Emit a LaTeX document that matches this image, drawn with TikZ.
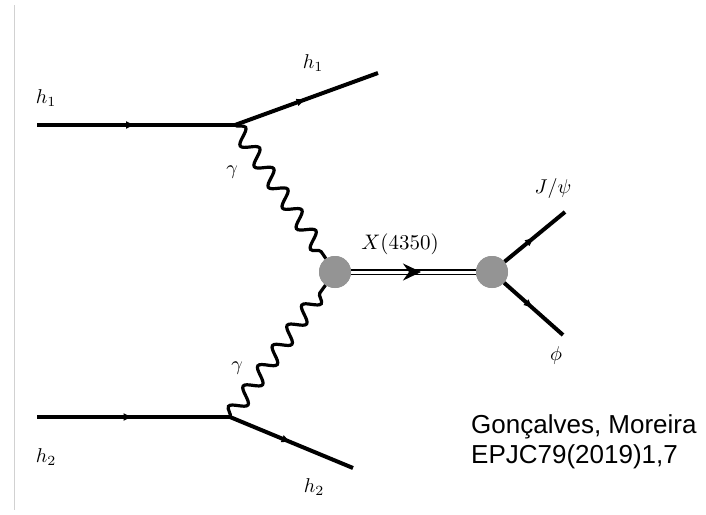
\documentclass[tikz,border=0pt]{standalone}
\usepackage{fontspec}
\newfontfamily\creditfont{Liberation Sans}
\usetikzlibrary{arrows.meta,positioning,decorations.pathmorphing,decorations.markings}

\begin{document}
\begin{tikzpicture}[
  x=1pt, y=-1pt,
  lbl/.style={inner sep=0pt, scale=2},
  fermion/.style={line width=4pt, postaction={decorate},
    decoration={markings, mark=at position 0.5 with {\arrow{Latex[length=10pt,width=8pt]}}}},
  photon/.style={line width=3.2pt, decorate, decoration={snake, amplitude=7.5pt, segment length=25pt}},
  blob/.style={circle, fill=black!42, minimum size=32pt, inner sep=0pt},
  xline/.style={double, double distance=3pt, line width=1.6pt},
  xarr/.style={postaction={decorate},
    decoration={markings, mark=at position 0.56 with {\arrow[line width=0.8pt]{Stealth[length=18pt,width=17pt,inset=6pt]}}}}]
  \useasboundingbox (0,0) rectangle (706,514);
  \draw[black!18, line width=1pt] (14,5) -- (14,510);
  % vertices and free ends
  \coordinate (h1in) at (37,125);  \coordinate (v1) at (235,125);  \coordinate (h1out) at (378,73);
  \coordinate (h2in) at (37,417);  \coordinate (v2) at (230,417);  \coordinate (h2out) at (353,468);
  \coordinate (jpsi) at (565,212); \coordinate (phiend) at (563,335);
  \node[blob] (b1) at (335,272) {};
  \node[blob] (b2) at (492,272) {};
  % lines
  \draw[fermion] (h1in) -- (v1);
  \draw[fermion] (v1) -- (h1out);
  \draw[fermion] (h2in) -- (v2);
  \draw[fermion] (v2) -- (h2out);
  \draw[photon] (v1) -- (b1);
  \draw[photon] (v2) -- (b1);
  \draw[xline] (b1) -- (b2);
  \path[xarr] (b1) -- (b2);
  \draw[fermion] (b2) -- (jpsi);
  \draw[fermion] (b2) -- (phiend);
  \node[blob] at (b1) {};
  \node[blob] at (b2) {};
  % labels
  \node[lbl] (lh1a) at (46,98) {$h_1$};
  \node[lbl] (lh1b) at (313,63) {$h_1$};
  \node[lbl] (lg1) at (232,172) {$\gamma$};
  \node[lbl, scale=1.05] (lx) at (400,244) {$X(4350)$};
  \node[lbl] (lj) at (553,188) {$J/\psi$};
  \node[lbl] (lphi) at (556,355) {$\phi$};
  \node[lbl] (lg2) at (237,368) {$\gamma$};
  \node[lbl] (lh2a) at (46,457) {$h_2$};
  \node[lbl] (lh2b) at (314,487) {$h_2$};
  \node[anchor=north west, inner sep=0pt, align=left, font=\creditfont\fontsize{26}{30}\selectfont] (credit) at (471,414) {Gonçalves, Moreira\\EPJC79(2019)1,7};
\end{tikzpicture}
\end{document}
